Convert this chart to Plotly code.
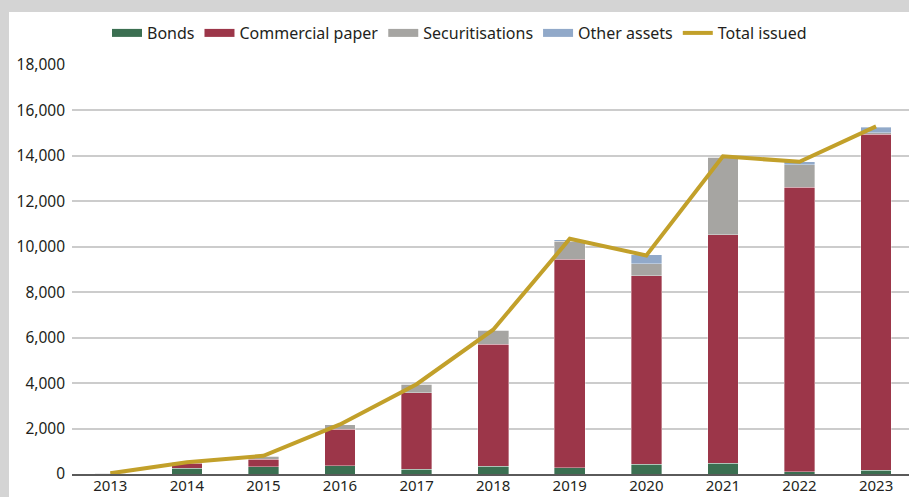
import plotly.graph_objects as go

# Annual issuance by instrument type
years = ["2013", "2014", "2015", "2016", "2017", "2018", "2019", "2020", "2021", "2022", "2023"]
bonds = [10, 250, 320, 370, 200, 350, 280, 425, 470, 100, 175]
commercial_paper = [0, 230, 340, 1610, 3375, 5365, 9170, 8295, 10050, 12520, 14775]
securitisations = [30, 30, 130, 190, 365, 615, 800, 540, 3430, 990, 60]
other_assets = [0, 0, 0, 0, 0, 0, 70, 380, 0, 140, 240]
total_issued = [30, 520, 800, 2180, 3950, 6350, 10350, 9620, 13980, 13740, 15300]

y_ticks = [0, 2000, 4000, 6000, 8000, 10000, 12000, 14000, 16000, 18000]

FONT = "Noto Sans"
TEXT = "#231f20"

series = [
    ("Bonds", bonds, "#3b6f51"),
    ("Commercial paper", commercial_paper, "#9c3649"),
    ("Securitisations", securitisations, "#a6a5a2"),
    ("Other assets", other_assets, "#91a9c9"),
]
line_color = "#c2a02a"

fig = go.Figure()

for name, vals, color in series:
    fig.add_trace(go.Bar(
        x=years, y=vals, name=name, marker_color=color,
        marker_line=dict(color="rgba(255,255,255,0.6)", width=0.6),
        showlegend=False,
    ))

fig.add_trace(go.Scatter(
    x=years, y=total_issued, name="Total issued", mode="lines",
    line=dict(color=line_color, width=4), showlegend=False,
))

# Legend entries drawn as flat swatches
for name, _, color in series:
    fig.add_trace(go.Scatter(
        x=[None], y=[None], name=name, mode="lines",
        line=dict(color=color, width=8),
    ))
fig.add_trace(go.Scatter(
    x=[None], y=[None], name="Total issued", mode="lines",
    line=dict(color=line_color, width=4),
))

# White panel over grey frame
fig.add_shape(
    type="rect", xref="paper", yref="paper",
    x0=-63 / 837, x1=1.05, y0=-0.1, y1=1 + 53 / 409.5,
    fillcolor="white", line_width=0, layer="below",
)

fig.update_layout(
    width=909, height=497,
    margin=dict(l=72, r=0, t=65, b=22.5, autoexpand=False),
    paper_bgcolor="#d4d4d4",
    plot_bgcolor="white",
    barmode="stack",
    bargap=0.6,
    font=dict(family=FONT, size=15.5, color=TEXT),
    legend=dict(
        orientation="h", xref="container", yref="container",
        x=0.5055, xanchor="center", y=1 - 33 / 497, yanchor="middle",
        traceorder="normal",
        bgcolor="rgba(0,0,0,0)", font=dict(family=FONT, size=16, color=TEXT),
        itemwidth=30, tracegroupgap=0,
    ),
    xaxis=dict(
        type="category", range=[-0.5, 10.43], automargin=False,
        showgrid=False, showline=True, linecolor="#5a5a5a", linewidth=1.5,
        ticks="", ticklabelstandoff=-3,
        tickfont=dict(family=FONT, size=15, color=TEXT),
    ),
    yaxis=dict(
        range=[0, 18000], tickvals=y_ticks, tickformat=",", automargin=False,
        showgrid=True, gridcolor="#cccccc", gridwidth=1.5,
        zeroline=False, showline=False, ticks="",
        ticklabelstandoff=6,
        tickfont=dict(family=FONT, size=15.5, color=TEXT),
    ),
)

fig.write_html("out.html")
